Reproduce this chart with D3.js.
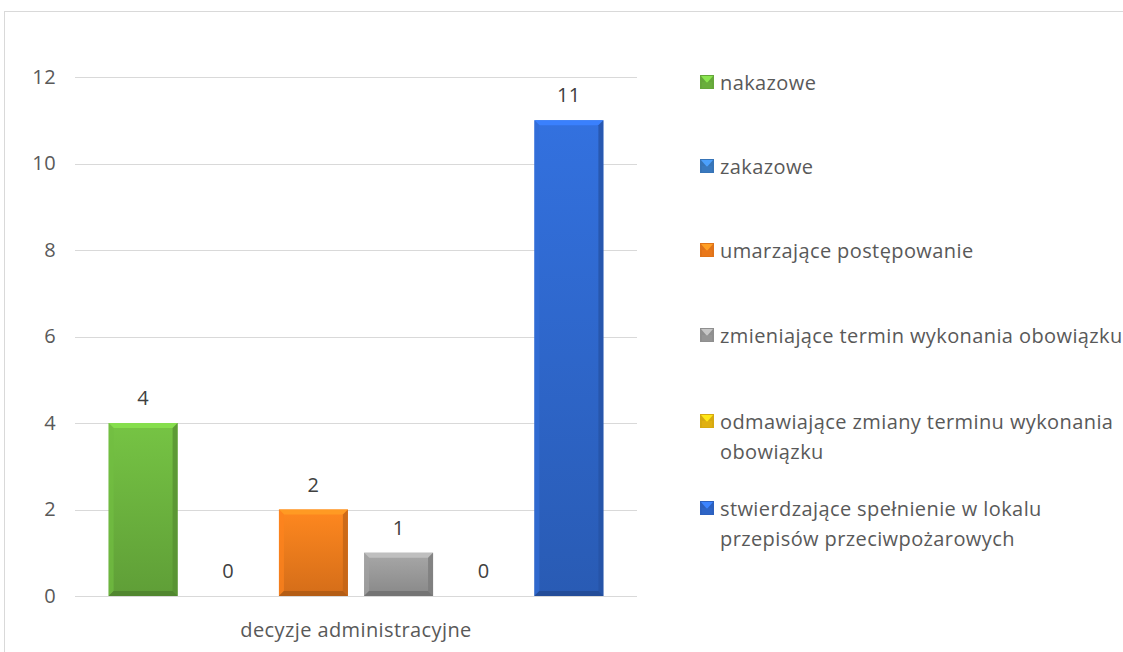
<!DOCTYPE html>
<html><head><meta charset="utf-8">
<script src="https://cdn.jsdelivr.net/npm/d3@7"></script>
<style>html,body{margin:0;padding:0;background:#fff;overflow:hidden}svg{display:block}</style>
</head><body>
<svg id="c" width="1123" height="652"></svg>
<script>
const category = "decyzje administracyjne";
const seriesNames = [
  "nakazowe",
  "zakazowe",
  "umarzające postępowanie",
  "zmieniające termin wykonania obowiązku",
  "odmawiające zmiany terminu wykonania\nobowiązku",
  "stwierdzające spełnienie w lokalu\nprzepisów przeciwpożarowych"
];
const seriesValues = [4, 0, 2, 1, 0, 11];
const seriesColors = ["#6cb33e", "#3b7dc4", "#f07c1c", "#9a9a9a", "#e6b512", "#2f67cc"];
const yTicks = [0, 2, 4, 6, 8, 10, 12];

const svg = d3.select("#c");
const font = "'Open Sans', 'Noto Sans', sans-serif";
const textCol = "#595959";
const fs = 20, ls = 0.4;

// frame
svg.append("rect").attr("x", 4.5).attr("y", 11.5).attr("width", 1200).attr("height", 700)
  .attr("fill", "#fff").attr("stroke", "#d9d9d9").attr("stroke-width", 1);

const plotLeft = 75, plotRight = 637, plotTop = 77, plotBottom = 596;
const y = d3.scaleLinear().domain([0, 12]).range([plotBottom, plotTop]);
const x0 = d3.scaleBand().domain([category]).range([plotLeft, plotRight]).paddingOuter(0.05).paddingInner(0);
const x1 = d3.scaleBand().domain(seriesNames).range([0, x0.bandwidth()]).paddingInner(0.19).paddingOuter(0.095);

// gridlines
svg.append("g").selectAll("line").data(yTicks).join("line")
  .attr("x1", plotLeft).attr("x2", plotRight)
  .attr("y1", d => Math.round(y(d)) + 0.5).attr("y2", d => Math.round(y(d)) + 0.5)
  .attr("stroke", "#d9d9d9").attr("stroke-width", 1.2);

// y labels
const yAxis = d3.axisLeft(y).tickValues(yTicks).tickSize(0).tickPadding(0);
const ga = svg.append("g").attr("transform", `translate(56,0)`).call(yAxis);
ga.select(".domain").remove();
ga.selectAll("text").attr("font-family", font).attr("font-size", fs).attr("letter-spacing", ls).attr("fill", textCol);

// gradients
const defs = svg.append("defs");
seriesColors.forEach((c, i) => {
  const g = defs.append("linearGradient").attr("id", "g" + i).attr("x1", 0).attr("y1", 0).attr("x2", 0).attr("y2", 1);
  g.append("stop").attr("offset", "0%").attr("stop-color", d3.color(c).brighter(0.25));
  g.append("stop").attr("offset", "100%").attr("stop-color", d3.color(c).darker(0.35));
});

const bevel = 5;
const bars = svg.append("g").selectAll("g").data(seriesNames.map((n, i) => ({n, v: seriesValues[i], i}))).join("g");
bars.each(function(d) {
  const g = d3.select(this);
  const bx = x0(category) + x1(d.n), bw = x1.bandwidth();
  const top = y(d.v), bot = y(0), h = bot - top;
  if (h > 0) {
    const c = seriesColors[d.i];
    g.append("rect").attr("x", bx).attr("y", top).attr("width", bw).attr("height", h).attr("fill", `url(#g${d.i})`);
    const b = Math.min(bevel, h / 2);
    g.append("polygon").attr("points", [[bx, top], [bx + bw, top], [bx + bw - b, top + b], [bx + b, top + b]].join(" "))
      .attr("fill", d3.color(c).brighter(0.6));
    g.append("polygon").attr("points", [[bx, top], [bx + b, top + b], [bx + b, bot - b], [bx, bot]].join(" "))
      .attr("fill", d3.color(c).brighter(0.15)).attr("opacity", 0.7);
    g.append("polygon").attr("points", [[bx + bw, top], [bx + bw - b, top + b], [bx + bw - b, bot - b], [bx + bw, bot]].join(" "))
      .attr("fill", d3.color(c).darker(0.6)).attr("opacity", 0.8);
    g.append("polygon").attr("points", [[bx, bot], [bx + b, bot - b], [bx + bw - b, bot - b], [bx + bw, bot]].join(" "))
      .attr("fill", d3.color(c).darker(0.8));
  }
  g.append("text").attr("x", bx + bw / 2).attr("y", top - 18).attr("text-anchor", "middle")
    .attr("font-family", font).attr("font-size", fs).attr("letter-spacing", ls).attr("fill", "#404040").text(d.v);
});

// x category label
svg.append("text").attr("x", x0(category) + x0.bandwidth() / 2).attr("y", 637).attr("text-anchor", "middle")
  .attr("font-family", font).attr("font-size", fs).attr("letter-spacing", ls).attr("fill", textCol).text(category);

// legend
const legY = [82, 166, 250, 335, 421, 508];
const leg = svg.append("g").selectAll("g").data(seriesNames).join("g")
  .attr("transform", (d, i) => `translate(700,${legY[i]})`);
leg.each(function(d, i) {
  const g = d3.select(this);
  const c = seriesColors[i];
  g.append("rect").attr("x", 0).attr("y", -7).attr("width", 14).attr("height", 14).attr("fill", d3.color(c).darker(0.2));
  g.append("polygon").attr("points", "1,-6 13,-6 7,1").attr("fill", d3.color(c).brighter(0.7));
  g.append("rect").attr("x", 2).attr("y", 0).attr("width", 10).attr("height", 6).attr("fill", c).attr("opacity", 0.6);
  const t = g.append("text").attr("x", 20).attr("y", 7.5).attr("font-family", font).attr("font-size", fs)
    .attr("letter-spacing", ls).attr("fill", textCol);
  d.split("\n").forEach((line, k) => {
    t.append("tspan").attr("x", 20).attr("dy", k === 0 ? 0 : 30).text(line);
  });
});
</script>
</body></html>
